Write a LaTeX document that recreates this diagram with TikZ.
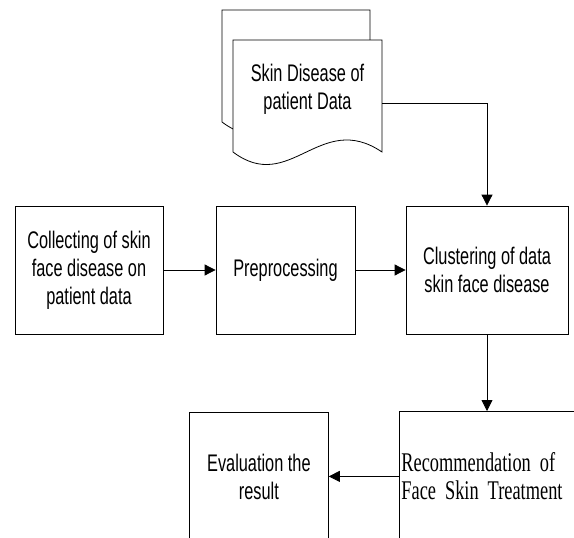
\documentclass[tikz,border=0pt]{standalone}
\usepackage{fontspec}
\usetikzlibrary{arrows.meta}
\newfontfamily\arialn[FakeStretch=0.68]{Liberation Sans}
\newfontfamily\timesn[FakeStretch=0.68]{Liberation Serif}
\begin{document}
\begin{tikzpicture}[x=1pt,y=-1pt, line width=0.8pt,
  procbox/.style={draw, fill=white, inner sep=2pt, align=center,
    font=\arialn\fontsize{24}{28}\selectfont},
  arr/.style={-{Triangle[length=11pt,width=11pt]}}]
\clip (0,0) rectangle (574,538);
\fill[white] (0,0) rectangle (574,538);
% document shapes
\draw[fill=white] (222,122) -- (222,10) -- (370,10) -- (370,122)
  .. controls (309,80) and (279,165) .. cycle;
\draw[fill=white] (233,152) -- (233,40) -- (382,40) -- (382,152)
  .. controls (320,110) and (290,195) .. cycle;
\node[minimum width=149pt, minimum height=112pt, inner sep=0pt] (doc) at (307.5,96) {};
\node[align=center, font=\arialn\fontsize{24}{28}\selectfont] (doctext) at (307.5,89)
  {Skin Disease of\\patient Data};
% boxes
\node[procbox, minimum width=148pt, minimum height=128pt] (coll) at (89,270)
  {Collecting of skin\\face disease on\\patient data};
\node[procbox, minimum width=139pt, minimum height=128pt] (pre) at (285.5,270)
  {Preprocessing};
\node[procbox, anchor=north west, text width=200pt, align=left,
  minimum height=130pt, font=\timesn\fontsize{27}{28}\selectfont] (rec) at (399,411)
  {\makebox[164pt][s]{Recommendation of}\\Face Skin Treatment};
\node[procbox, minimum width=162pt, minimum height=128pt] (clus) at (487,270)
  {Clustering of data\\skin face disease};
\node[procbox, anchor=north west, minimum width=139pt, minimum height=130pt] (eval) at (189,412)
  {Evaluation the\\result};
% connectors
\draw[arr] ([yshift=-7pt]doc.east) -| (clus.north);
\draw[arr] (coll) -- (pre);
\draw[arr] (pre) -- (clus);
\draw[arr] (clus.south) -- (clus.south |- rec.north);
\draw[arr] (rec.west) -- (rec.west -| eval.east);
\end{tikzpicture}
\end{document}
